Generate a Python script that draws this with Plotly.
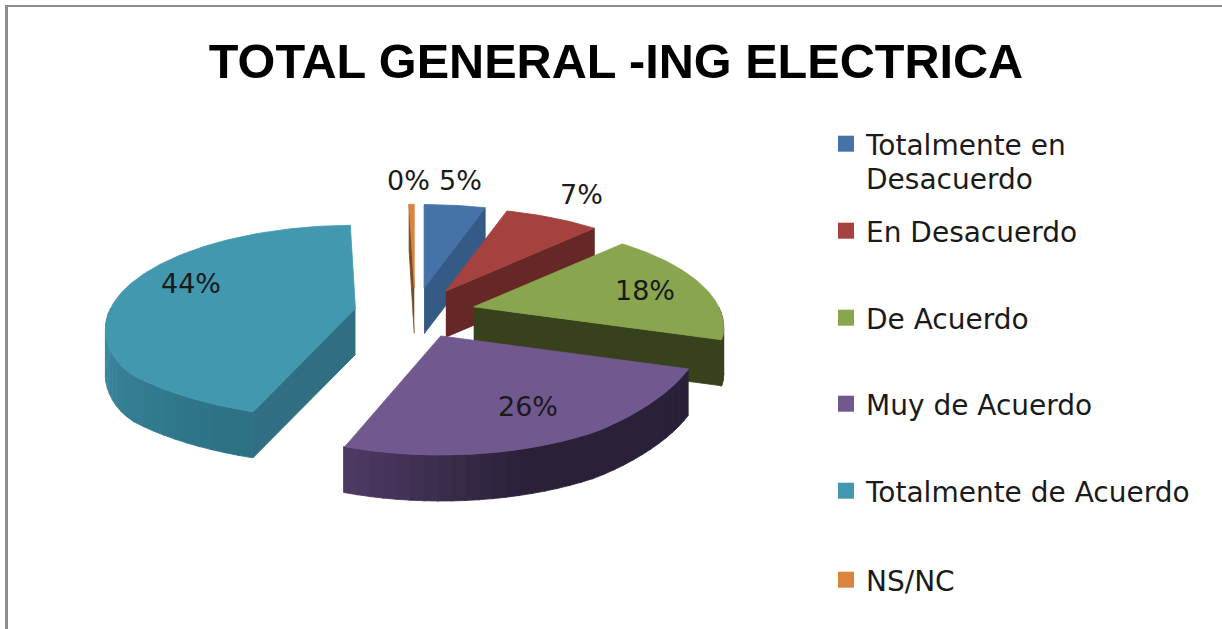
import numpy as np
import plotly.graph_objects as go

TITLE = "TOTAL GENERAL -ING ELECTRICA"
categories = ["Totalmente en Desacuerdo", "En Desacuerdo", "De Acuerdo",
              "Muy de Acuerdo", "Totalmente de Acuerdo", "NS/NC"]
values = [4.8, 7.4, 17.8, 26, 43.6, 0.4]
top_colors = ["#4572A7", "#A5423F", "#89A54E", "#71588F", "#4198AF", "#DB843D"]
cut_colors = ["#345A85", "#652826", "#37411C", "#2A2038", "#306F82", "#7A4A22"]
rim_light = ["#345A85", "#652826", "#37411C", "#4F3C66", "#3F8EA6", "#7A4A22"]
rim_dark = ["#345A85", "#652826", "#37411C", "#2A2038", "#2C7184", "#7A4A22"]
rim_shade_from = [90, 90, 90, 201.6, 270, 90]
rim_shade_to = [270, 270, 270, 160, 205, 270]
label_shift = [(6, -25), (29, -23), (-55, 7), (-24, -37), (69, -8), (-3, -24)]
clip_x = [-0.3, -0.3, -0.3, -0.3, -0.6, -0.3]
clip_y = [-0.8, -0.8, -0.8, -0.8, -0.5, -0.8]
draw_order = [5, 0, 1, 2, 4, 3]

CX, CY = 415, 313
EX, EY = 60.5, 25.4
A, B = 245, 100
K = 0.2
DEPTH = 46
W, H = 1222, 629


def hex_mix(c1, c2, t):
    a = [int(c1[i:i + 2], 16) for i in (1, 3, 5)]
    b = [int(c2[i:i + 2], 16) for i in (1, 3, 5)]
    return "#%02x%02x%02x" % tuple(round(p + (q - p) * t) for p, q in zip(a, b))


def rim(apex, deg, i):
    th = np.radians(deg)
    c = np.cos(th)
    sx = 1 / (1 + K * np.maximum(c, clip_x[i]))
    sy = 1 / (1 + K * np.maximum(c, clip_y[i]))
    return apex[0] + A * np.sin(th) * sx, apex[1] - B * c * sy


def poly(x, y, color):
    return go.Scatter(x=list(x), y=list(y), mode="lines", fill="toself", fillcolor=color,
                      line=dict(color=color, width=0.8), hoverinfo="skip", showlegend=False)


fractions = np.array(values) / sum(values)
ends = np.cumsum(fractions) * 360
starts = ends - fractions * 360

fig = go.Figure()
annotations = []
for i in draw_order:
    a0, a1 = starts[i], ends[i]
    mid = np.radians((a0 + a1) / 2)
    apex = (CX + EX * np.sin(mid), CY - EY * np.cos(mid))
    # outer wall, in slim facets so that the shading varies along it
    lo, hi = max(a0, 90), min(a1, 270)
    if hi > lo:
        edges = np.linspace(lo, hi, max(2, int((hi - lo) / 3) + 1))
        for j in range(len(edges) - 1):
            d = np.linspace(edges[j], edges[j + 1] + 0.3, 4)
            rx, ry = rim(apex, d, i)
            t = (edges[j] - rim_shade_from[i]) / (rim_shade_to[i] - rim_shade_from[i])
            col = hex_mix(rim_light[i], rim_dark[i], min(1, max(0, t)))
            fig.add_trace(poly(np.r_[rx, rx[::-1]], np.r_[ry, ry[::-1] + DEPTH], col))
    # cut faces that look towards the viewer
    for edge, normal in ((a0, a0 - 90), (a1, a1 + 90)):
        if np.cos(np.radians(normal)) < 0:
            ex, ey = rim(apex, edge, i)
            fig.add_trace(poly([apex[0], ex, ex, apex[0]],
                               [apex[1], ey, ey + DEPTH, apex[1] + DEPTH], cut_colors[i]))
    # top face
    d = np.linspace(a0, a1, max(3, int(a1 - a0) + 2))
    rx, ry = rim(apex, d, i)
    fig.add_trace(poly(np.r_[apex[0], rx, apex[0]], np.r_[apex[1], ry, apex[1]], top_colors[i]))
    lx, ly = rim(apex, np.degrees(mid), i)
    annotations.append(dict(x=float(lx), y=float(ly), xref="x", yref="y", showarrow=False,
                            text=f"{round(values[i])}%", xshift=label_shift[i][0],
                            yshift=-label_shift[i][1],
                            font=dict(family="DejaVu Sans", size=27, color="#1a1a1a")))

legend_rows = [145, 232, 319, 405, 492, 581]
LEGEND_SIZE = 28
layout_legends = {}
for i, name in enumerate(categories):
    key = "legend" if i == 0 else f"legend{i + 1}"
    shown = name
    if i == 0:
        shown, wrapped = name.rsplit(" ", 1)
        annotations.append(dict(x=864 / W, y=1 - 180 / H, xref="paper", yref="paper", xanchor="left",
                                yanchor="middle", showarrow=False, text=wrapped,
                                font=dict(family="DejaVu Sans", size=LEGEND_SIZE, color="#1a1a1a")))
    fig.add_trace(go.Scatter(x=[None], y=[None], mode="markers", name=shown, legend=key,
                             marker=dict(symbol="square", size=17, color=top_colors[i])))
    layout_legends[key] = dict(x=826 / W, y=1 - (legend_rows[i] - 26) / H, xanchor="left", yanchor="top",
                               bgcolor="rgba(0,0,0,0)", itemwidth=30, itemclick=False,
                               font=dict(family="DejaVu Sans", size=LEGEND_SIZE, color="#1a1a1a"))

fig.update_layout(
    width=W, height=H, margin=dict(l=0, r=0, t=0, b=0),
    paper_bgcolor="white", plot_bgcolor="white", showlegend=True,
    title=dict(text=f"<b>{TITLE}</b>", x=616 / W, xanchor="center", y=1 - 61 / H, yanchor="middle",
               font=dict(family="Liberation Sans", size=48.6, color="#000000")),
    xaxis=dict(range=[0, W], visible=False, fixedrange=True),
    yaxis=dict(range=[H, 0], visible=False, fixedrange=True),
    annotations=annotations,
    shapes=[
        dict(type="line", xref="paper", yref="paper", x0=6.5 / W, x1=6.5 / W, y0=0, y1=1 - 5 / H,
             line=dict(color="#8C8C8C", width=3)),
        dict(type="line", xref="paper", yref="paper", x0=5 / W, x1=1, y0=1 - 6 / H, y1=1 - 6 / H,
             line=dict(color="#8C8C8C", width=2)),
    ],
    **layout_legends,
)

fig.write_html("out.html", config={"displayModeBar": False},
               post_script="document.body.style.margin='0';")
